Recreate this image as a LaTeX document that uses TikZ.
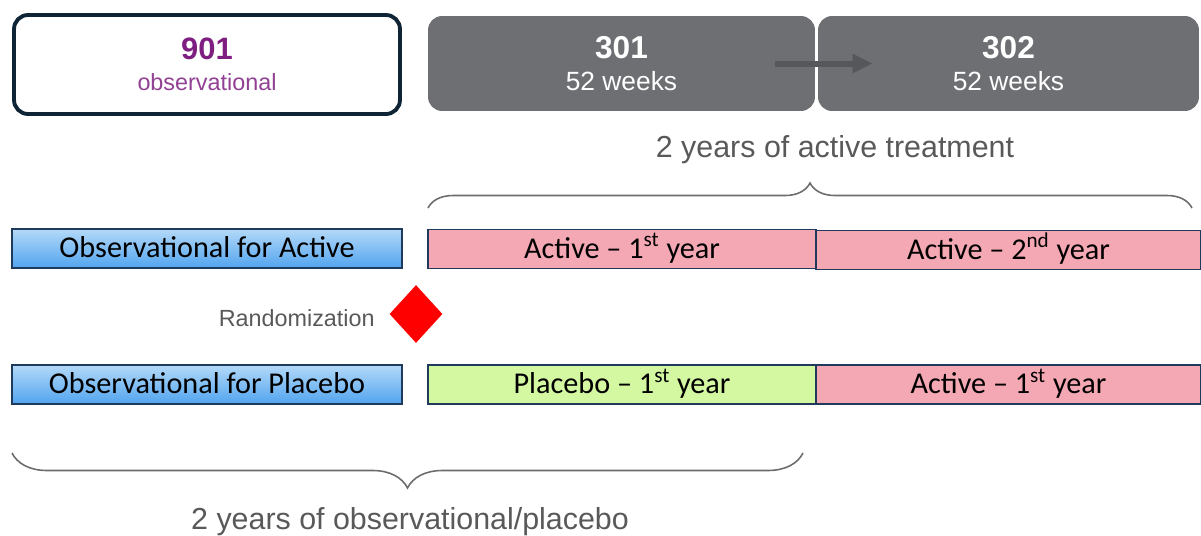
\documentclass[tikz,border=0pt]{standalone}
\usepackage{fontspec}
\setmainfont{Liberation Sans}
\newfontfamily\calib{Carlito}
\usepackage{tikz}
\usetikzlibrary{shapes.geometric, arrows.meta, positioning, calc, decorations.pathreplacing}
\usepackage{xcolor}
\definecolor{navy}{HTML}{0F2536}
\definecolor{barline}{HTML}{1F3A5A}
\definecolor{purp}{HTML}{7D1E80}
\definecolor{boxgray}{HTML}{6D6F73}
\definecolor{arrgray}{HTML}{55575A}
\definecolor{txtgray}{HTML}{595959}
\definecolor{obstop}{HTML}{B3D9F8}
\definecolor{obsbot}{HTML}{52A4EF}
\definecolor{pinkbar}{HTML}{F4A8B4}
\definecolor{greenbar}{HTML}{D4F7A2}
\tikzset{
    studybox/.style = {rectangle, rounded corners=0.28cm, minimum height=1.9cm, align=center, fill=boxgray, text=white, inner sep=0pt, font=\fontsize{15}{18}\selectfont},
    obsbar/.style = {rectangle, minimum width=7.8cm, minimum height=0.78cm, draw=barline, line width=0.7pt, top color=obstop, bottom color=obsbot, font=\calib\fontsize{17.2}{20}\selectfont, inner sep=0pt, text height=0.46cm, text depth=0.1cm},
    armbar/.style = {rectangle, minimum width=7.76cm, minimum height=0.78cm, draw=barline, line width=0.7pt, font=\calib\fontsize{17.2}{20}\selectfont, inner sep=0pt, text height=0.46cm, text depth=0.1cm},
    gtext/.style = {text=txtgray, inner sep=0pt},
    bracket/.style = {draw=gray!85!black, line width=0.9pt, decorate}
}
\begin{document}
\begin{tikzpicture}[x=0.02cm, y=-0.02cm]
\useasboundingbox (0,0) rectangle (1201,535);

% ---- study boxes (top row) ----
\node[draw=navy, line width=2.2pt, rectangle, rounded corners=0.28cm, minimum width=7.72cm, minimum height=1.98cm, align=center, inner sep=0pt, font=\fontsize{13.3}{18}\selectfont, text=purp] (n901) at (207,64.5) {%
  {\fontsize{17.6}{18}\selectfont\bfseries 901}\\
  {\color{purp!85!white}observational}};
\node[studybox, minimum width=7.74cm] (s301) at (621.5,63.5) {%
  {\fontsize{18}{18}\selectfont\bfseries 301}\\
  52 weeks};
\node[studybox, minimum width=7.62cm] (s302) at (1008.5,63.5) {%
  {\fontsize{18}{18}\selectfont\bfseries 302}\\
  52 weeks};
\draw[arrgray, line width=0.12cm, -{Triangle[length=0.4cm, width=0.36cm]}] ([xshift=-0.8cm]s301.east) -- ([xshift=1.1cm]s302.west);

% ---- top bracket ----
\node[gtext, font=\fontsize{17.3}{20}\selectfont] (acttxt) at (835,150) {2 years of active treatment};
\coordinate (tb1) at (428,208);
\coordinate (tb2) at (1192,208);
\draw[bracket, decoration={brace, amplitude=0.5cm}] (tb1) -- (tb2);

% ---- arms ----
\node[obsbar] (obsact) at (207,248.5) {Observational for Active};
\node[armbar, fill=pinkbar] (act1) at (622,249) {Active \textendash{} 1\textsuperscript{st} year};
\node[armbar, fill=pinkbar, minimum width=7.7cm] (act2) at (1008.5,250) {Active \textendash{} 2\textsuperscript{nd} year};

\node[diamond, fill=red, inner sep=0pt, minimum width=1.06cm, minimum height=1.16cm] (rand) at (416,314) {};
\node[gtext, anchor=east, font=\fontsize{13.3}{16}\selectfont] (randtxt) at (375,318) {Randomization};

\node[obsbar] (obspla) at (207,384.5) {Observational for Placebo};
\node[armbar, fill=greenbar] (pla1) at (622,384.5) {Placebo \textendash{} 1\textsuperscript{st} year};
\node[armbar, fill=pinkbar, minimum width=7.7cm] (act1b) at (1008.5,384.5) {Active \textendash{} 1\textsuperscript{st} year};

% ---- bottom bracket ----
\coordinate (bb1) at (12,453);
\coordinate (bb2) at (803,453);
\draw[bracket, decoration={brace, mirror, amplitude=0.7cm}] (bb1) -- (bb2);
\node[gtext, font=\fontsize{17.3}{20}\selectfont] (obstxt) at (410,522) {2 years of observational/placebo};

\end{tikzpicture}
\end{document}
